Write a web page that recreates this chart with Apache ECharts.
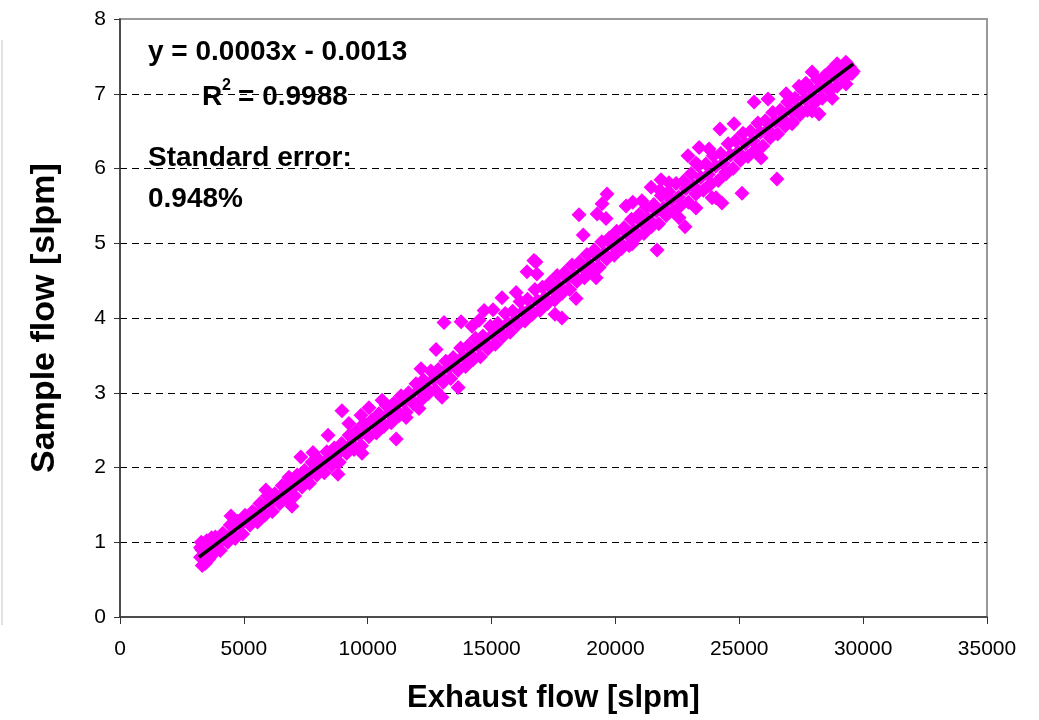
<!DOCTYPE html>
<html>
<head>
<meta charset="utf-8">
<title>Sample flow vs exhaust flow</title>
<script src="https://cdn.jsdelivr.net/npm/echarts@6/dist/echarts.min.js"></script>
<style>
    html, body { margin: 0; padding: 0; background: #fff; }
    #chart { width: 1039px; height: 720px; }
</style>
</head>
<body>
<div id="chart"></div>
<script>
// upper edge of the point band [exhaust flow, sample flow]
const bandUpper = [
    [3250, 0.93], [3550, 0.98], [3850, 1.07], [4150, 1.12], [4450, 1.23], [4750, 1.28], [5050, 1.36], [5350, 1.41],
    [5650, 1.52], [5950, 1.62], [6250, 1.65], [6550, 1.76], [6850, 1.79], [7150, 1.90], [7450, 1.96], [7750, 2.07],
    [8050, 2.10], [8350, 2.21], [8650, 2.26], [8950, 2.32], [9250, 2.43], [9550, 2.49], [9850, 2.59], [10150, 2.63],
    [10450, 2.72], [10750, 2.83], [11050, 2.86], [11350, 2.96], [11650, 3.00], [11950, 3.12], [12250, 3.17], [12550, 3.29],
    [12850, 3.31], [13150, 3.42], [13450, 3.47], [13750, 3.60], [14050, 3.63], [14350, 3.73], [14650, 3.76], [14950, 3.89],
    [15250, 3.93], [15550, 4.06], [15850, 4.09], [16150, 4.22], [16450, 4.25], [16750, 4.38], [17050, 4.41], [17350, 4.47],
    [17650, 4.57], [17950, 4.61], [18250, 4.71], [18550, 4.75], [18850, 4.85], [19150, 4.91], [19450, 5.02], [19750, 5.07],
    [20050, 5.16], [20350, 5.21], [20650, 5.32], [20950, 5.38], [21250, 5.48], [21550, 5.52], [21850, 5.64], [22150, 5.69],
    [22450, 5.80], [22750, 5.83], [23050, 5.93], [23350, 6.04], [23650, 6.06], [23950, 6.17], [24250, 6.20], [24550, 6.33],
    [24850, 6.37], [25150, 6.47], [25450, 6.50], [25750, 6.61], [26050, 6.64], [26350, 6.75], [26650, 6.78], [26950, 6.89],
    [27250, 6.94], [27550, 7.05], [27850, 7.08], [28150, 7.19], [28450, 7.24], [28750, 7.33], [29050, 7.36], [29350, 7.40]
];

// middle of the band
const bandMiddle = [
    [3350, 0.82], [3650, 0.93], [3950, 0.97], [4250, 1.08], [4550, 1.12], [4850, 1.23], [5150, 1.27], [5450, 1.38],
    [5750, 1.42], [6050, 1.53], [6350, 1.57], [6650, 1.68], [6950, 1.72], [7250, 1.83], [7550, 1.87], [7850, 1.98],
    [8150, 2.02], [8450, 2.13], [8750, 2.17], [9050, 2.28], [9350, 2.32], [9650, 2.43], [9950, 2.47], [10250, 2.58],
    [10550, 2.62], [10850, 2.73], [11150, 2.77], [11450, 2.88], [11750, 2.92], [12050, 3.03], [12350, 3.07], [12650, 3.18],
    [12950, 3.22], [13250, 3.33], [13550, 3.37], [13850, 3.48], [14150, 3.52], [14450, 3.63], [14750, 3.67], [15050, 3.78],
    [15350, 3.82], [15650, 3.93], [15950, 3.97], [16250, 4.08], [16550, 4.12], [16850, 4.23], [17150, 4.27], [17450, 4.38],
    [17750, 4.42], [18050, 4.53], [18350, 4.57], [18650, 4.68], [18950, 4.72], [19250, 4.83], [19550, 4.87], [19850, 4.98],
    [20150, 5.02], [20450, 5.13], [20750, 5.17], [21050, 5.28], [21350, 5.32], [21650, 5.43], [21950, 5.47], [22250, 5.58],
    [22550, 5.62], [22850, 5.73], [23150, 5.77], [23450, 5.88], [23750, 5.92], [24050, 6.03], [24350, 6.07], [24650, 6.18],
    [24950, 6.22], [25250, 6.33], [25550, 6.37], [25850, 6.48], [26150, 6.52], [26450, 6.63], [26750, 6.67], [27050, 6.78],
    [27350, 6.82], [27650, 6.93], [27950, 6.97], [28250, 7.08], [28550, 7.12], [28850, 7.23], [29150, 7.27], [29450, 7.36]
];

// lower edge of the band
const bandLower = [
    [3450, 0.72], [3750, 0.84], [4050, 0.89], [4350, 1.00], [4650, 1.05], [4950, 1.11], [5250, 1.23], [5550, 1.27],
    [5850, 1.36], [6150, 1.41], [6450, 1.52], [6750, 1.58], [7050, 1.62], [7350, 1.74], [7650, 1.79], [7950, 1.90],
    [8250, 1.93], [8550, 2.03], [8850, 2.07], [9150, 2.19], [9450, 2.24], [9750, 2.29], [10050, 2.41], [10350, 2.46],
    [10650, 2.55], [10950, 2.60], [11250, 2.69], [11550, 2.74], [11850, 2.85], [12150, 2.90], [12450, 2.99], [12750, 3.03],
    [13050, 3.14], [13350, 3.19], [13650, 3.30], [13950, 3.35], [14250, 3.44], [14550, 3.48], [14850, 3.59], [15150, 3.65],
    [15450, 3.75], [15750, 3.81], [16050, 3.91], [16350, 3.96], [16650, 4.05], [16950, 4.10], [17250, 4.19], [17550, 4.24],
    [17850, 4.33], [18150, 4.38], [18450, 4.49], [18750, 4.54], [19050, 4.63], [19350, 4.68], [19650, 4.79], [19950, 4.84],
    [20250, 4.93], [20550, 4.97], [20850, 5.08], [21150, 5.13], [21450, 5.22], [21750, 5.26], [22050, 5.37], [22350, 5.42],
    [22650, 5.51], [22950, 5.55], [23250, 5.66], [23550, 5.71], [23850, 5.80], [24150, 5.84], [24450, 5.95], [24750, 6.00],
    [25050, 6.11], [25350, 6.16], [25650, 6.25], [25950, 6.30], [26250, 6.41], [26550, 6.46], [26850, 6.57], [27150, 6.62],
    [27450, 6.72], [27750, 6.78], [28050, 6.88], [28350, 6.94], [28650, 7.04], [28950, 7.10], [29250, 7.20], [29550, 7.27]
];

// blob at the low end of the range
const bandStart = [
    [3280, 1.00], [3300, 0.90], [3320, 0.69], [3400, 0.76], [3500, 1.02], [3600, 0.78], [3700, 1.06], [3250, 0.80]
];

// points sitting off the band
const outliers = [
    [4480, 1.35], [5890, 1.70], [6820, 1.87], [6940, 1.48], [7300, 2.14], [7790, 2.20], [8400, 2.43], [8800, 1.91],
    [8960, 2.76], [9240, 2.59], [9730, 2.70], [9770, 2.19], [10050, 2.80], [10580, 2.90], [11150, 2.38], [11550, 2.67],
    [12070, 2.79], [12150, 3.32], [12760, 3.58], [13000, 2.94], [13080, 3.94], [13650, 3.07], [13770, 3.95], [14210, 3.89],
    [14500, 3.97], [14700, 4.10], [15060, 4.11], [15420, 4.27], [15990, 4.34], [16430, 4.62], [16710, 4.77], [16790, 4.75],
    [16830, 4.59], [17560, 4.05], [17840, 4.00], [18410, 4.26], [18530, 5.38], [18700, 5.11], [19220, 4.54], [19260, 5.39],
    [19460, 5.53], [19620, 5.33], [19660, 5.66], [20430, 5.50], [20670, 4.99], [20700, 5.55], [21070, 5.57], [21440, 5.75],
    [21680, 4.91], [21800, 5.71], [21840, 5.85], [22160, 5.81], [22570, 5.34], [22810, 5.22], [22930, 6.17], [23250, 5.47],
    [23250, 6.07], [23380, 6.28], [23780, 6.26], [23780, 5.77], [23900, 5.61], [24060, 5.61], [24220, 6.53], [24300, 5.54],
    [24470, 5.93], [24790, 6.60], [25110, 5.67], [25600, 6.89], [25880, 6.14], [26160, 6.93], [26320, 6.46], [26520, 5.86],
    [26890, 7.00], [27130, 6.60], [27410, 7.10], [27690, 7.14], [27940, 7.29], [27940, 6.77], [28220, 6.73], [28750, 6.94],
    [28950, 7.40], [29300, 7.42], [29310, 7.13], [29600, 7.30]
];

// linear fit drawn over the points
const trendLine = [[3190, 0.80], [29600, 7.40]];

const fontFamily = '"Liberation Sans", Arial, sans-serif';
const samplePoints = bandStart.concat(bandLower, bandMiddle, bandUpper, outliers);

const chart = echarts.init(document.getElementById('chart'));

chart.setOption({
    animation: false,
    backgroundColor: '#fff',
    grid: {
        left: 120,
        right: 52,
        top: 19,
        bottom: 103,
        show: true,
        borderColor: '#999',
        borderWidth: 2,
        backgroundColor: '#fff'
    },
    xAxis: {
        type: 'value',
        min: 0,
        max: 35000,
        interval: 5000,
        name: 'Exhaust flow [slpm]',
        nameLocation: 'middle',
        nameGap: 66,
        nameTextStyle: { fontSize: 31, fontWeight: 'bold', color: '#000', fontFamily: fontFamily },
        axisLine: { lineStyle: { color: '#333', width: 1.5 } },
        axisTick: { length: 7, lineStyle: { color: '#333' } },
        axisLabel: {
            fontSize: 21, color: '#000', fontFamily: fontFamily, margin: 22,
            formatter: function (v) { return String(v); }
        },
        splitLine: { show: false }
    },
    yAxis: {
        type: 'value',
        min: 0,
        max: 8,
        interval: 1,
        name: 'Sample flow [slpm]',
        nameLocation: 'middle',
        nameGap: 58,
        nameTextStyle: { fontSize: 34, fontWeight: 'bold', color: '#000', fontFamily: fontFamily },
        axisLine: { lineStyle: { color: '#333', width: 1.5 } },
        axisTick: { length: 6, lineStyle: { color: '#333' } },
        axisLabel: { fontSize: 21, color: '#000', fontFamily: fontFamily, margin: 14 },
        splitLine: {
            show: true,
            showMinLine: false,
            showMaxLine: false,
            lineStyle: { color: '#000', width: 1, type: [7, 5] }
        }
    },
    series: [
        {
            type: 'scatter',
            data: samplePoints,
            symbol: 'diamond',
            symbolSize: 15,
            itemStyle: { color: '#ff00ff', opacity: 1 },
            silent: true
        },
        {
            type: 'line',
            data: trendLine,
            symbol: 'none',
            lineStyle: { color: '#000', width: 3.5 },
            z: 5,
            silent: true
        }
    ],
    graphic: [
        // faint frame line at the left edge
        { type: 'line', shape: { x1: 2, y1: 40, x2: 2, y2: 625 }, style: { stroke: '#e2e2e2', lineWidth: 2 } },
        { type: 'text', x: 148, y: 52, style: { text: 'y = 0.0003x - 0.0013', font: 'bold 28px ' + fontFamily, fill: '#000', verticalAlign: 'middle' } },
        { type: 'text', x: 202, y: 97, style: { text: 'R', font: 'bold 28px ' + fontFamily, fill: '#000', verticalAlign: 'middle' } },
        { type: 'text', x: 222, y: 86, style: { text: '2', font: 'bold 16px ' + fontFamily, fill: '#000', verticalAlign: 'middle' } },
        { type: 'text', x: 238, y: 97, style: { text: '= 0.9988', font: 'bold 28px ' + fontFamily, fill: '#000', verticalAlign: 'middle' } },
        { type: 'text', x: 148, y: 158, style: { text: 'Standard error:', font: 'bold 28px ' + fontFamily, fill: '#000', verticalAlign: 'middle' } },
        { type: 'text', x: 148, y: 199, style: { text: '0.948%', font: 'bold 28px ' + fontFamily, fill: '#000', verticalAlign: 'middle' } }
    ]
});

window.addEventListener('resize', function () {
    chart.resize();
});
</script>
</body>
</html>
